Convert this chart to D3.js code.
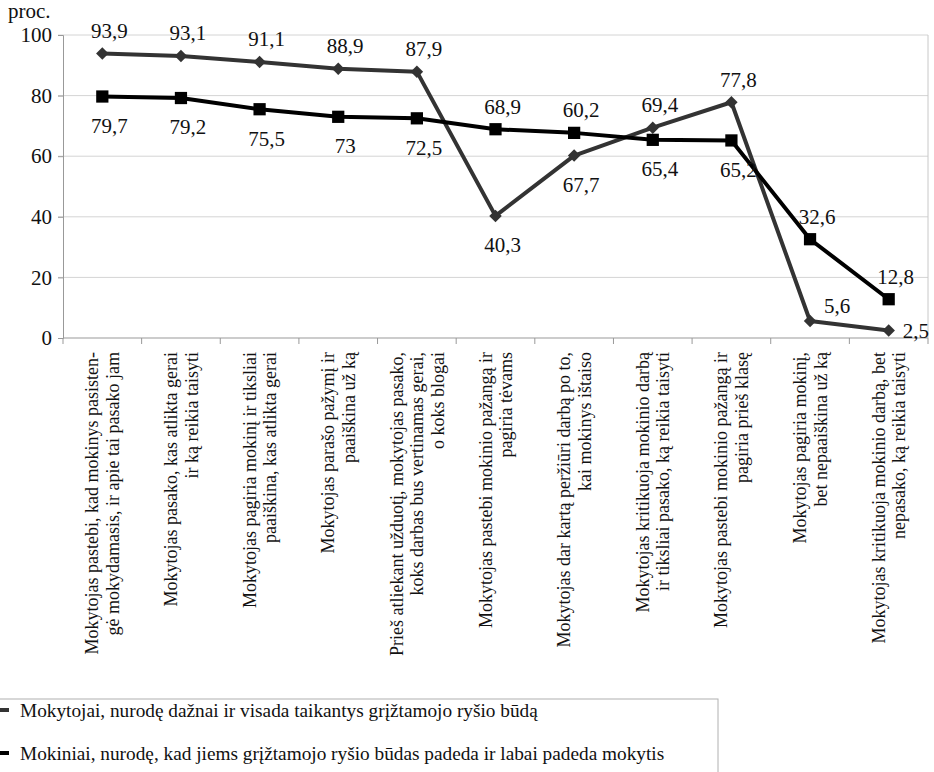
<!DOCTYPE html>
<html>
<head>
<meta charset="utf-8">
<script src="https://cdn.jsdelivr.net/npm/d3@7"></script>
<style>
  body { margin: 0; background: #fff; }
  svg text { font-family: "Liberation Serif", serif; }
</style>
</head>
<body>
<div id="viz"></div>
<script>
const FONT = "Liberation Serif, serif";

// categories (each label split in lines as in the original)
const categories = [
  ["Mokytojas pastebi, kad mokinys pasisten-", "gė mokydamasis, ir apie tai pasako jam"],
  ["Mokytojas pasako, kas atlikta gerai", "ir ką reikia taisyti"],
  ["Mokytojas pagiria mokinį ir tiksliai", "paaiškina, kas atlikta gerai"],
  ["Mokytojas parašo pažymį ir", "paaiškina už ką"],
  ["Prieš atliekant užduotį, mokytojas pasako,", "koks darbas bus vertinamas gerai,", "o koks blogai"],
  ["Mokytojas pastebi mokinio pažangą ir", "pagiria tėvams"],
  ["Mokytojas dar kartą peržiūri darbą po to,", "kai mokinys ištaiso"],
  ["Mokytojas kritikuoja mokinio darbą", "ir tiksliai pasako, ką reikia taisyti"],
  ["Mokytojas pastebi mokinio pažangą ir", "pagiria prieš klasę"],
  ["Mokytojas pagiria mokinį,", "bet nepaaiškina už ką"],
  ["Mokytojas kritikuoja mokinio darbą, bet", "nepasako, ką reikia taisyti"]
];

const teachers = [93.9, 93.1, 91.1, 88.9, 87.9, 40.3, 60.2, 69.4, 77.8, 5.6, 2.5];
const students = [79.7, 79.2, 75.5, 73, 72.5, 68.9, 67.7, 65.4, 65.2, 32.6, 12.8];

// where each value label sits: above / below the pair of points, or next to its own point
const teachersLabelPos = ["above", "above", "above", "above", "above", "below", "above", "above", "above", "ownAbove", "right"];
const studentsLabelPos = ["below", "below", "below", "below", "below", "above", "below", "below", "below", "above", "above"];

const yTicks = [0, 20, 40, 60, 80, 100];
const legendLabels = [
  "Mokytojai, nurodę dažnai ir visada taikantys grįžtamojo ryšio būdą",
  "Mokiniai, nurodę, kad jiems grįžtamojo ryšio būdas padeda ir labai padeda mokytis"
];

const width = 934, height = 772;
const margin = { left: 63, right: 6, top: 35 };
const plotBottom = 338;

const svg = d3.select("#viz").append("svg")
  .attr("width", width)
  .attr("height", height)
  .style("font-family", FONT);

const x = d3.scaleBand()
  .domain(d3.range(categories.length))
  .range([margin.left, width - margin.right])
  .padding(0);

const y = d3.scaleLinear()
  .domain([0, 100])
  .range([plotBottom, margin.top]);

const cx = i => x(i) + x.bandwidth() / 2;

// gridlines
svg.append("g")
  .selectAll("line")
  .data(yTicks.filter(d => d > 0))
  .enter().append("line")
  .attr("x1", margin.left - 5)
  .attr("x2", width - margin.right)
  .attr("y1", d => y(d))
  .attr("y2", d => y(d))
  .attr("stroke", "#d4d4d4")
  .attr("stroke-width", 1);

// right border
svg.append("line")
  .attr("x1", width - margin.right).attr("x2", width - margin.right)
  .attr("y1", y(100)).attr("y2", y(0))
  .attr("stroke", "#c8c8c8");

// y axis
const yAxis = svg.append("g")
  .attr("transform", `translate(${margin.left},0)`)
  .call(d3.axisLeft(y).tickValues(yTicks).tickSize(5).tickPadding(6));
yAxis.attr("font-family", null).attr("font-size", null);
yAxis.select(".domain").attr("stroke", "#999");
yAxis.selectAll(".tick line").attr("stroke", "#999");
yAxis.selectAll(".tick text")
  .style("font-family", FONT)
  .style("font-size", "21px")
  .attr("fill", "#111");

// x axis: ticks at category boundaries
svg.append("line")
  .attr("x1", margin.left).attr("x2", width - margin.right)
  .attr("y1", plotBottom).attr("y2", plotBottom)
  .attr("stroke", "#999");
svg.append("g")
  .selectAll("line")
  .data(d3.range(categories.length + 1))
  .enter().append("line")
  .attr("x1", i => i < categories.length ? x(i) : width - margin.right)
  .attr("x2", i => i < categories.length ? x(i) : width - margin.right)
  .attr("y1", plotBottom)
  .attr("y2", plotBottom + 6)
  .attr("stroke", "#999");

// category labels, rotated
const lineGap = 20.5;
const catLabel = svg.append("g")
  .selectAll("g")
  .data(categories)
  .enter().append("g");
catLabel.each(function(lines, i) {
  const g = d3.select(this);
  const n = lines.length;
  lines.forEach((t, k) => {
    const lx = cx(i) + (k - (n - 1) / 2) * lineGap;
    g.append("text")
      .attr("transform", `translate(${lx},352) rotate(-90)`)
      .attr("text-anchor", "end")
      .attr("dy", "0.35em")
      .style("font-family", FONT)
      .style("font-size", "18px")
      .attr("fill", "#111")
      .text(t);
  });
});

// "proc."
svg.append("text")
  .attr("x", 8).attr("y", 18)
  .style("font-family", FONT)
  .style("font-size", "21px")
  .attr("fill", "#111")
  .text("proc.");

// lines
const line = d3.line()
  .x((d, i) => cx(i))
  .y(d => y(d));

const series = [
  { values: teachers, pos: teachersLabelPos, color: "#333333", marker: "diamond" },
  { values: students, pos: studentsLabelPos, color: "#000000", marker: "square" }
];

series.forEach(s => {
  svg.append("path")
    .datum(s.values)
    .attr("d", line)
    .attr("fill", "none")
    .attr("stroke", s.color)
    .attr("stroke-width", 4)
    .attr("stroke-linejoin", "round");

  svg.append("g")
    .selectAll("path")
    .data(s.values)
    .enter().append("path")
    .attr("d", s.marker === "diamond"
      ? d3.symbol().type(d3.symbolSquare).size(78)()
      : d3.symbol().type(d3.symbolSquare).size(150)())
    .attr("transform", (d, i) => `translate(${cx(i)},${y(d)})` + (s.marker === "diamond" ? " rotate(45)" : ""))
    .attr("fill", s.color);
});

// value labels
const fmt = v => String(v).replace(".", ",");
series.forEach(s => {
  const other = s === series[0] ? series[1] : series[0];
  svg.append("g")
    .selectAll("text")
    .data(s.values)
    .enter().append("text")
    .style("font-family", FONT)
    .style("font-size", "21px")
    .attr("fill", "#111")
    .attr("dy", "0.35em")
    .attr("text-anchor", (d, i) => s.pos[i] === "right" ? "start" : "middle")
    .attr("x", (d, i) => {
      const p = s.pos[i];
      if (p === "right") return cx(i) + 14;
      if (p === "ownAbove") return cx(i) + 27;
      return cx(i) + 7;
    })
    .attr("y", (d, i) => {
      const p = s.pos[i];
      const hi = Math.max(d, other.values[i]);
      const lo = Math.min(d, other.values[i]);
      if (p === "above") return y(hi) - 23;
      if (p === "below") return y(lo) + 29;
      if (p === "ownAbove") return y(d) - 15;
      return y(d);
    })
    .text(d => fmt(d));
});

// legend
const legend = svg.append("g");
legend.append("rect")
  .attr("x", -20).attr("y", 699)
  .attr("width", 738).attr("height", 100)
  .attr("fill", "none")
  .attr("stroke", "#b0b0b0");
const item = legend.selectAll("g")
  .data(legendLabels)
  .enter().append("g")
  .attr("transform", (d, i) => `translate(0,${710 + i * 43})`);
item.append("line")
  .attr("x1", -10).attr("x2", 9)
  .attr("stroke", (d, i) => series[i].color)
  .attr("stroke-width", 4);
item.append("text")
  .attr("x", 20)
  .attr("dy", "0.35em")
  .style("font-family", FONT)
  .style("font-size", "19.3px")
  .attr("fill", "#111")
  .text(d => d);
</script>
</body>
</html>
